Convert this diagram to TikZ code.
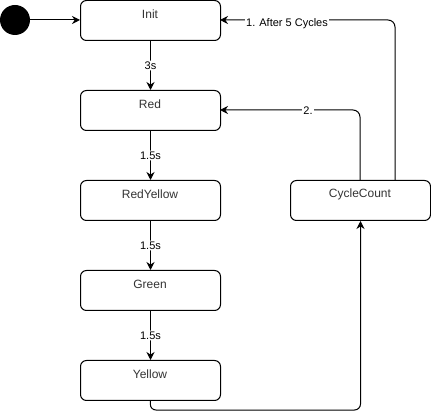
\documentclass[tikz,border=0pt]{standalone}
\usepackage{fontspec}
\setmainfont{Liberation Sans}
\usetikzlibrary{arrows.meta}
\definecolor{nodetext}{HTML}{333333}
\begin{document}
\begin{tikzpicture}[x=1pt,y=-1pt,
  state/.style={draw,line width=1pt,rounded corners=6pt,minimum width=140pt,minimum height=40pt,inner sep=0pt,anchor=north west},
  stxt/.style={text=nodetext,font=\fontsize{12}{14}\selectfont,inner sep=0pt},
  conn/.style={line width=1pt,-{Stealth[length=8pt,width=8pt]},rounded corners=7pt},
  elab/.style={fill=white,font=\fontsize{11}{13}\selectfont,inner sep=1pt}]
\useasboundingbox (0,0) rectangle (431,419);
\fill (15,20) circle (15pt);
\node[circle,minimum size=30pt,inner sep=0pt] (startc) at (15,20) {};
\node[state] (init) at (80,0) {};
\node[state] (red) at (80,90) {};
\node[state] (ry) at (80,180) {};
\node[state] (green) at (80,270) {};
\node[state] (yellow) at (80,360) {};
\node[state] (cc) at (290,180) {};
\node[stxt] at (150,14) {Init};
\node[stxt] at (150,104) {Red};
\node[stxt] at (150,194) {RedYellow};
\node[stxt] at (150,284) {Green};
\node[stxt] at (150,374) {Yellow};
\node[stxt] at (360,194) {CycleCount};
\draw[conn] (startc.east) -- (init.west |- startc.east);
\draw[conn] (init.south) -- node[elab] {3s} (red.north);
\draw[conn] (red.south) -- node[elab] {1.5s} (ry.north);
\draw[conn] (ry.south) -- node[elab] {1.5s} (green.north);
\draw[conn] (green.south) -- node[elab] {1.5s} (yellow.north);
\coordinate (yb) at (150,410);
\draw[conn,rounded corners=6pt] (yellow.south) -- (yb) -| (cc.south);
\coordinate (c1) at (395,180);
\coordinate (c2) at (360,180);
\draw[conn] (c1) |- (220,20) coordinate (i1);
\draw[conn] (c2) |- (220,110) coordinate (r1);
\node[elab] at (287,24) {1. After 5 Cycles};
\node[elab] at (308,111) {2.};
\end{tikzpicture}
\end{document}
